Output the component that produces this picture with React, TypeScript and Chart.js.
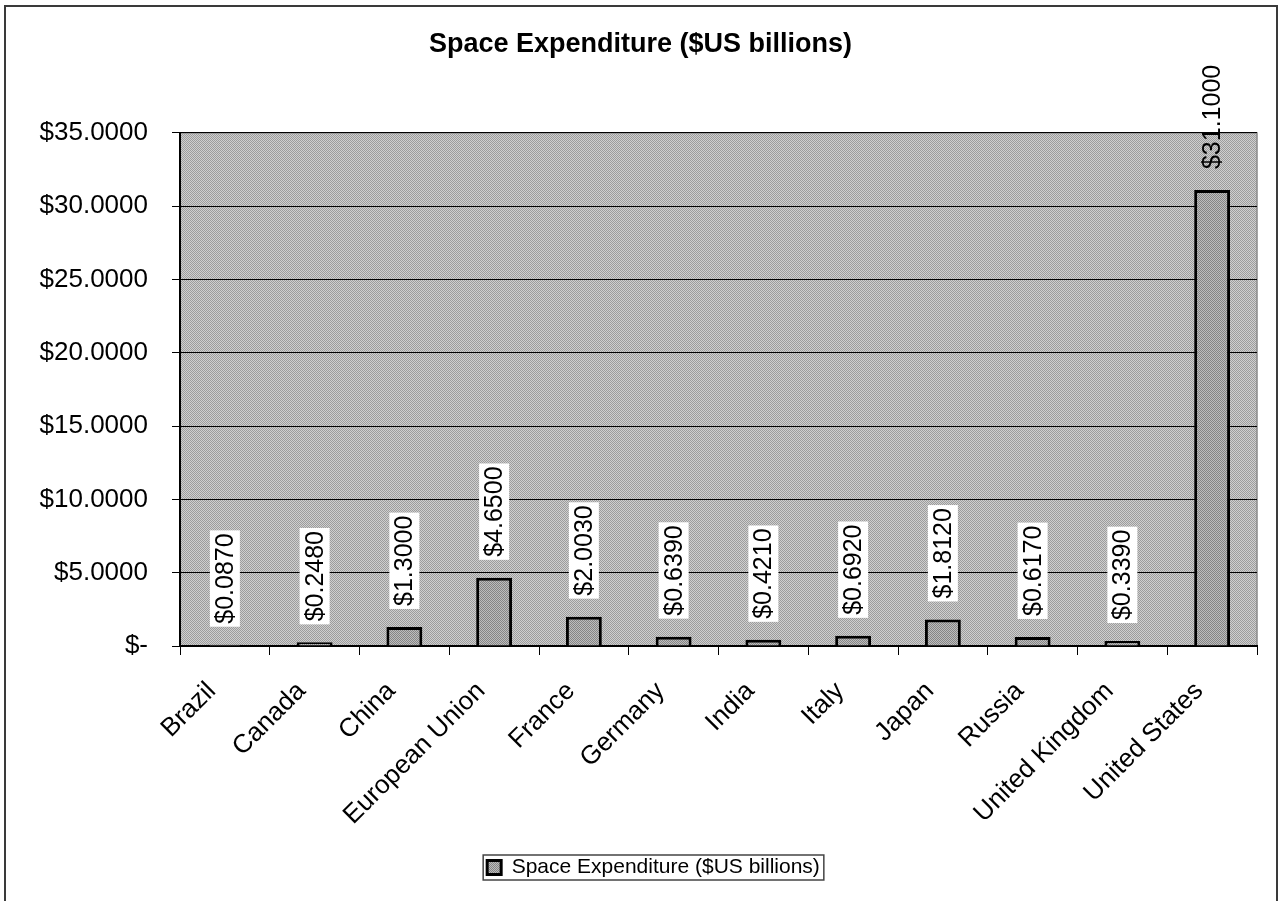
import React, { useEffect, useRef } from "react";
import { Chart, registerables } from "chart.js";

Chart.register(...registerables);

const categories = [
  "Brazil",
  "Canada",
  "China",
  "European Union",
  "France",
  "Germany",
  "India",
  "Italy",
  "Japan",
  "Russia",
  "United Kingdom",
  "United States",
];
const expenditure = [0.087, 0.248, 1.3, 4.65, 2.003, 0.639, 0.421, 0.692, 1.812, 0.617, 0.339, 31.1];
const seriesLabel = "Space Expenditure ($US billions)";
const chartTitle = "Space Expenditure ($US billions)";
const yMin = 0;
const yMax = 35;
const yStep = 5;

const FONT = '"Liberation Sans", Arial, Helvetica, sans-serif';

function money(v: number): string {
  if (v === 0) return "$-";
  return "$" + v.toFixed(4);
}

function makePattern(light: string, dark: string): CanvasPattern | string {
  const c = document.createElement("canvas");
  c.width = 2;
  c.height = 2;
  const g = c.getContext("2d");
  if (!g) return light;
  g.fillStyle = light;
  g.fillRect(0, 0, 2, 2);
  g.fillStyle = dark;
  g.fillRect(0, 0, 1, 1);
  g.fillRect(1, 1, 1, 1);
  const p = g.createPattern(c, "repeat");
  return p || light;
}

export default function App() {
  const ref = useRef<HTMLCanvasElement | null>(null);

  useEffect(() => {
    if (!ref.current) return;
    const plotFill = makePattern("#cfcfcf", "#9c9c9c");
    const barFill = makePattern("#bdbdbd", "#858585");

    const bgPlugin = {
      id: "bgPlugin",
      afterLayout(chart: any) {
        const lg = chart.legend;
        if (lg) {
          lg.left += 25;
          lg.right += 25;
        }
        const tb = chart.titleBlock;
        if (tb) {
          tb.left += 12;
          tb.right += 12;
        }
      },
      beforeDraw(chart: any) {
        const { ctx, chartArea: a } = chart;
        ctx.save();
        ctx.fillStyle = "#ffffff";
        ctx.fillRect(0, 0, chart.width, chart.height);
        ctx.strokeStyle = "#3a3a3a";
        ctx.lineWidth = 2;
        ctx.strokeRect(5, 6, 1272, chart.height + 20);
        ctx.fillStyle = plotFill;
        ctx.fillRect(a.left, a.top, a.right - a.left, a.bottom - a.top);
        ctx.strokeStyle = "#8a8a8a";
        ctx.lineWidth = 1.5;
        ctx.strokeRect(a.left, a.top, a.right - a.left, a.bottom - a.top);
        ctx.restore();
      },
      afterDraw(chart: any) {
        const lg = chart.legend;
        if (!lg || !lg.legendHitBoxes || !lg.legendHitBoxes.length) return;
        const hb = lg.legendHitBoxes[0];
        const ctx = chart.ctx;
        ctx.save();
        ctx.strokeStyle = "#444";
        ctx.lineWidth = 1.5;
        ctx.strokeRect(hb.left - 4, hb.top + hb.height / 2 - 12.5, hb.width + 8, 25);
        ctx.restore();
      },
    };

    const labelPlugin = {
      id: "barLabels",
      afterDatasetsDraw(chart: any) {
        const meta = chart.getDatasetMeta(0);
        const ctx = chart.ctx;
        const area = chart.chartArea;
        ctx.save();
        ctx.font = `25px ${FONT}`;
        meta.data.forEach((bar: any, i: number) => {
          const text = money(expenditure[i]);
          const w = ctx.measureText(text).width;
          const pad = 3;
          const len = w + pad * 2;
          const thick = 30;
          const bottom = bar.y - 18;
          const top = bottom - len;
          if (top >= area.top) {
            ctx.fillStyle = "#ffffff";
            ctx.fillRect(bar.x - thick / 2, top, thick, len);
          }
          ctx.save();
          ctx.translate(bar.x, bottom - pad);
          ctx.rotate(-Math.PI / 2);
          ctx.textAlign = "left";
          ctx.textBaseline = "middle";
          ctx.fillStyle = "#000000";
          ctx.fillText(text, 0, 1);
          ctx.restore();
        });
        ctx.restore();
      },
    };

    const chart = new Chart(ref.current, {
      type: "bar",
      data: {
        labels: categories,
        datasets: [
          {
            label: seriesLabel,
            data: expenditure,
            backgroundColor: barFill as any,
            borderColor: "#000000",
            borderWidth: 3,
            barPercentage: 0.4,
            categoryPercentage: 1,
          },
        ],
      },
      options: {
        animation: false,
        responsive: true,
        maintainAspectRatio: false,
        layout: { padding: { left: 0, right: 27, top: 0, bottom: 13 } },
        plugins: {
          title: {
            display: true,
            text: chartTitle,
            color: "#000",
            font: { family: FONT, size: 27, weight: "bold" },
            padding: { top: 28.5, bottom: 72 },
          },
          legend: {
            display: true,
            position: "bottom",
            labels: {
              color: "#000",
              font: { family: FONT, size: 21 },
              boxWidth: 14,
              boxHeight: 14,
              padding: 10,
            },
          },
          tooltip: { enabled: false },
        },
        scales: {
          x: {
            grid: {
              display: true,
              drawOnChartArea: false,
              drawTicks: true,
              tickLength: 9,
              color: "#000",
              offset: true,
            },
            border: { display: true, color: "#000", width: 2 },
            ticks: {
              color: "#000",
              font: { family: FONT, size: 26 },
              maxRotation: 45,
              minRotation: 45,
              autoSkip: false,
              padding: 21,
              labelOffset: -13,
            },
            afterFit(s: any) {
              s.height = 201;
            },
          },
          y: {
            min: yMin,
            max: yMax,
            ticks: {
              stepSize: yStep,
              color: "#000",
              font: { family: FONT, size: 26 },
              padding: 24,
              callback: (v: any) => money(Number(v)),
            },
            grid: { color: "#000", lineWidth: 1, tickLength: 8, drawTicks: true },
            border: { display: true, color: "#000", width: 2 },
            afterFit(s: any) {
              s.width = 180;
            },
          },
        },
      },
      plugins: [bgPlugin, labelPlugin],
    });
    return () => chart.destroy();
  }, []);

  return (
    <div style={{ position: "fixed", left: 0, top: 0, width: 1284, height: 901, background: "#fff" }}>
      <canvas ref={ref} />
    </div>
  );
}
